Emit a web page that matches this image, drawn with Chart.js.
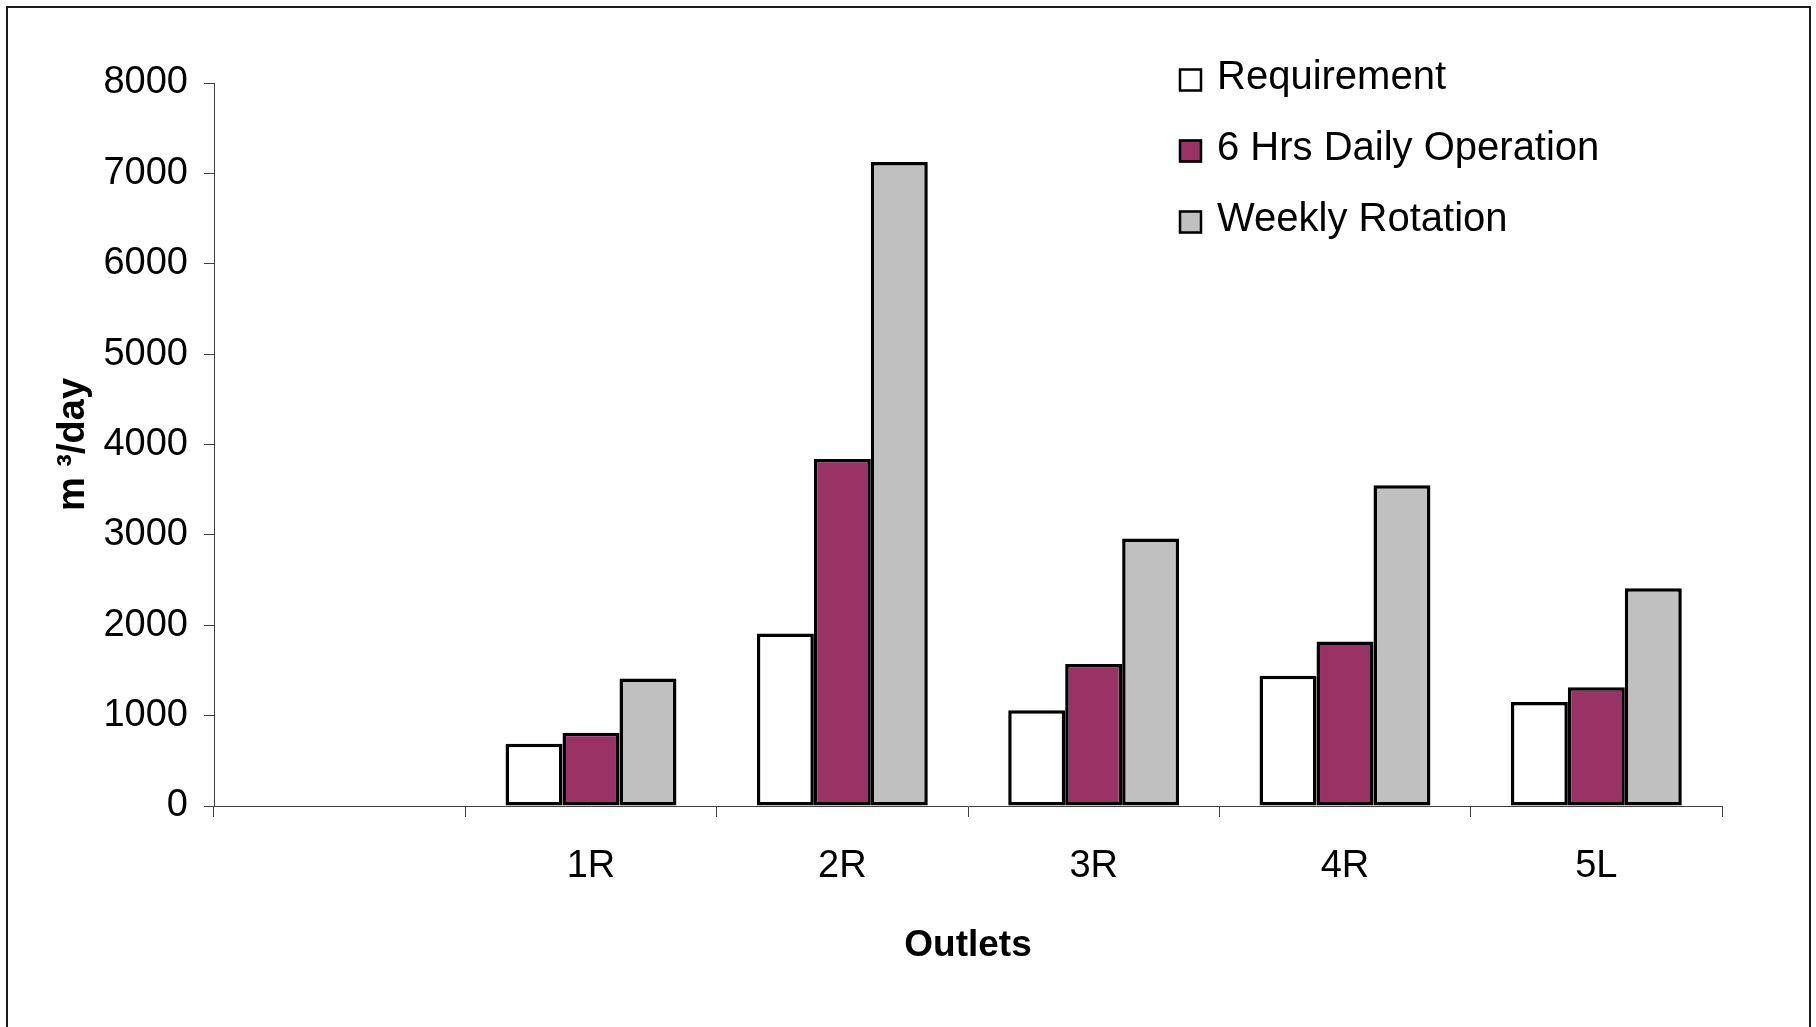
<!DOCTYPE html>
<html>
<head>
<meta charset="utf-8">
<title>Outlet discharge</title>
<script src="https://cdn.jsdelivr.net/npm/chart.js@4/dist/chart.umd.min.js"></script>
<style>
  html, body { margin: 0; padding: 0; background: #ffffff; }
  #wrap { width: 1816px; height: 1027px; position: relative; }
</style>
</head>
<body>
<div id="wrap"><canvas id="chart" width="1816" height="1027"></canvas></div>
<script>
// Outlets along the canal (the first slot is left empty)
const categories = ['', '1R', '2R', '3R', '4R', '5L'];

// Discharge per outlet, m³/day
const requirement    = [null, 690, 1910, 1060, 1440, 1150];
const dailyOperation = [null, 810, 3840, 1570, 1820, 1315];
const weeklyRotation = [null, 1410, 7125, 2960, 3550, 2410];

const seriesNames = ['Requirement', '6 Hrs Daily Operation', 'Weekly Rotation'];
const seriesColors = ['#ffffff', '#993366', '#c0c0c0'];

const yMin = 0, yMax = 8000, yStep = 1000;

const SANS = "'Liberation Sans', Arial, sans-serif";

// Frame around the whole figure
const framePlugin = {
  id: 'frame',
  beforeDraw(chart) {
    const ctx = chart.ctx;
    ctx.save();
    ctx.fillStyle = '#ffffff';
    ctx.fillRect(0, 0, chart.width, chart.height);
    ctx.strokeStyle = '#1a1a1a';
    ctx.lineWidth = 2;
    ctx.strokeRect(7, 7, 1803, 1100);
    ctx.restore();
  }
};

// Legend block in the upper right of the plot
const legendPlugin = {
  id: 'boxLegend',
  afterDraw(chart) {
    const ctx = chart.ctx;
    ctx.save();
    chart.data.datasets.forEach((ds, i) => {
      const cy = 80 + i * 71;
      const bx = 1179, size = 23;
      ctx.fillStyle = ds.backgroundColor;
      ctx.fillRect(bx, cy - size / 2, size, size);
      ctx.strokeStyle = '#000000';
      ctx.lineWidth = 2.5;
      ctx.strokeRect(bx + 1, cy - size / 2 + 1, size - 2, size - 2);
      ctx.fillStyle = '#000000';
      ctx.font = '40px ' + SANS;
      ctx.textAlign = 'left';
      ctx.textBaseline = 'middle';
      ctx.fillText(ds.label, 1217, cy - 2);
    });
    ctx.restore();
  }
};

const makeSet = (i, data) => ({
  label: seriesNames[i],
  data: data,
  backgroundColor: seriesColors[i],
  borderColor: '#000000',
  borderWidth: 3.5,
  borderSkipped: false,
  categoryPercentage: 0.68,
  barPercentage: 1.0
});

new Chart(document.getElementById('chart'), {
  type: 'bar',
  data: {
    labels: categories,
    datasets: [
      makeSet(0, requirement),
      makeSet(1, dailyOperation),
      makeSet(2, weeklyRotation)
    ]
  },
  plugins: [framePlugin, legendPlugin],
  options: {
    responsive: false,
    animation: false,
    devicePixelRatio: 1,
    layout: { padding: { left: 51, top: 83, right: 94, bottom: 0 } },
    plugins: {
      legend: { display: false },
      tooltip: { enabled: false }
    },
    scales: {
      x: {
        grid: {
          display: true,
          drawOnChartArea: false,
          drawTicks: true,
          tickLength: 11,
          color: '#404040',
          lineWidth: 1
        },
        border: { display: true, color: '#404040', width: 1 },
        ticks: {
          color: '#000000',
          font: { family: SANS, size: 38 },
          padding: 27,
          maxRotation: 0,
          autoSkip: false
        },
        title: {
          display: true,
          text: 'Outlets',
          color: '#000000',
          font: { family: SANS, size: 37, weight: 'bold' },
          padding: { top: 0, bottom: 59 }
        },
        afterFit(scale) { scale.height = 221; }
      },
      y: {
        min: yMin,
        max: yMax,
        grid: {
          display: true,
          drawOnChartArea: false,
          drawTicks: true,
          tickLength: 10,
          color: '#404040',
          lineWidth: 1
        },
        border: { display: true, color: '#404040', width: 1 },
        ticks: {
          stepSize: yStep,
          color: '#000000',
          font: { family: SANS, size: 38 },
          padding: 16,
          callback: (v) => String(v)
        },
        title: {
          display: true,
          text: 'm ³/day',
          color: '#000000',
          font: { family: SANS, size: 38, weight: 'bold' },
          padding: { top: 0, bottom: 0 }
        },
        afterFit(scale) { scale.width = 163; }
      }
    }
  }
});
</script>
</body>
</html>
